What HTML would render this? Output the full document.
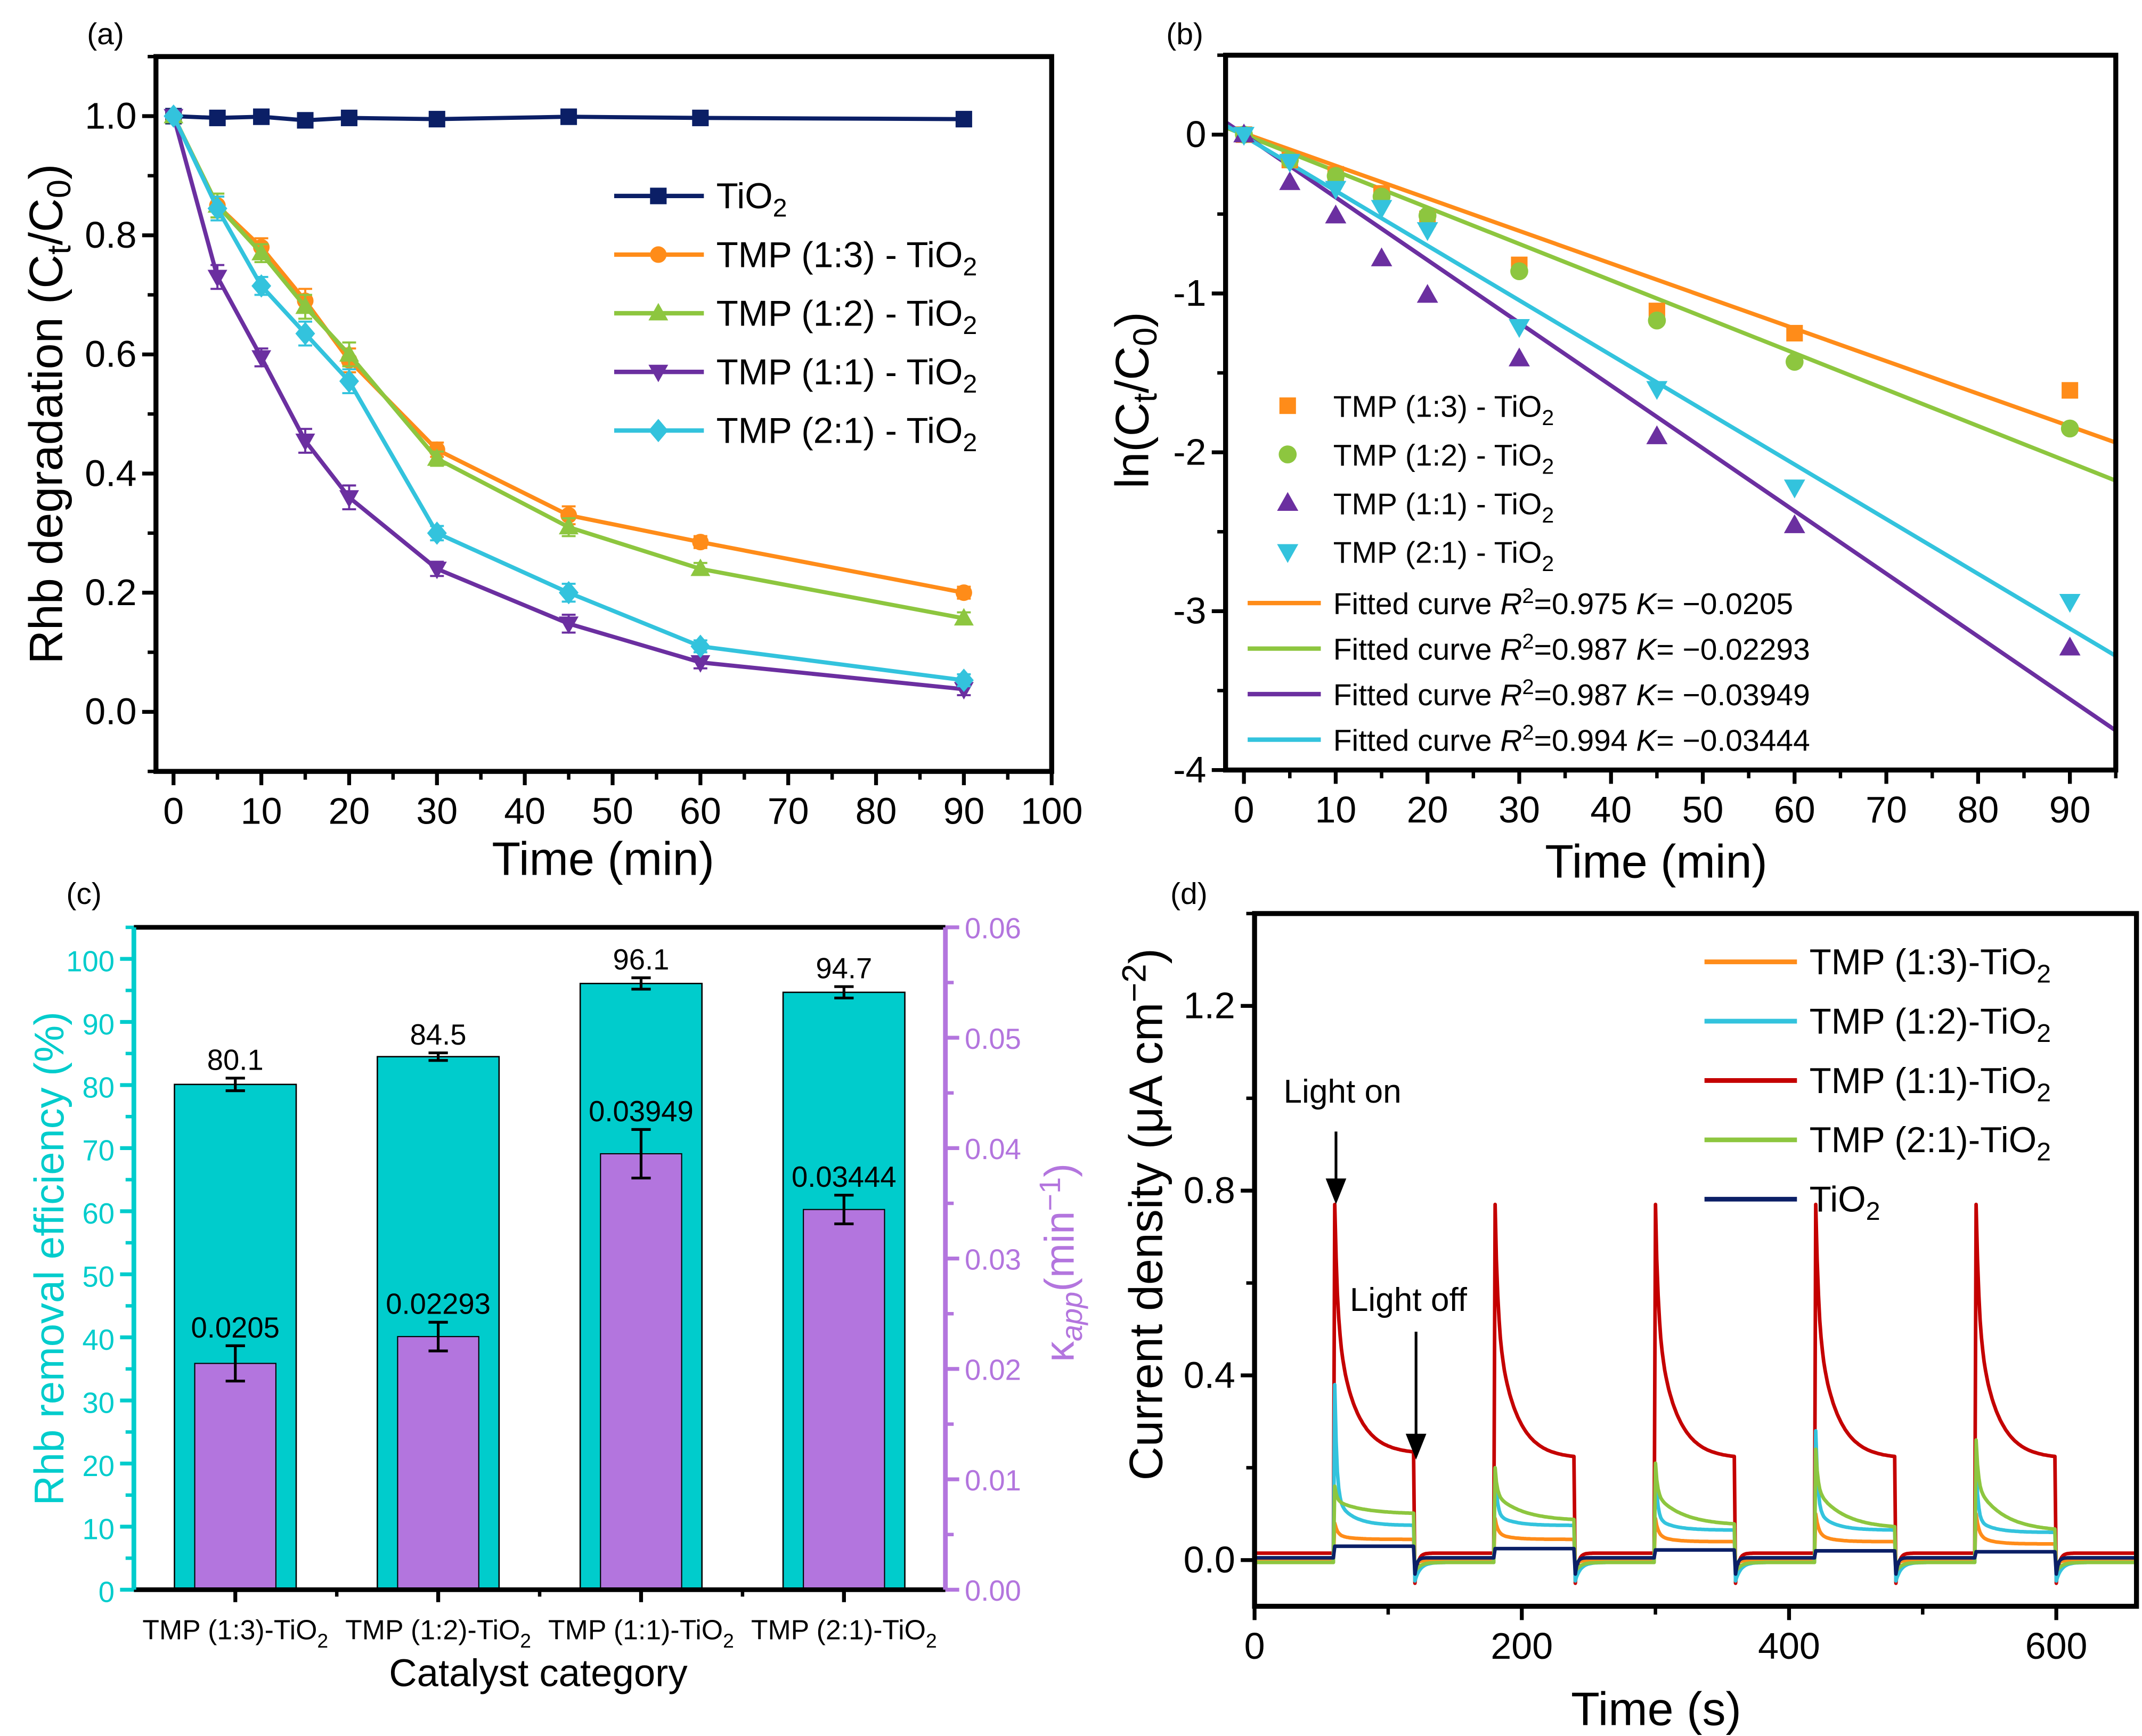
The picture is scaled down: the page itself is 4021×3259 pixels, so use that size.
<!DOCTYPE html>
<html><head><meta charset="utf-8"><style>
html,body{margin:0;padding:0;background:#fff}
svg{display:block;font-family:"Liberation Sans",sans-serif}
</style></head><body>
<svg id="fig" width="4021" height="3259" viewBox="0 0 1552 1258" preserveAspectRatio="none" xmlns="http://www.w3.org/2000/svg"></svg>
<script>
// ---------- Panel (a) data ----------
const aTimes=[0,5,10,15,20,30,45,60,90];
const aTiO2=[1.0,0.997,0.999,0.993,0.997,0.995,0.999,0.997,0.995];
const a13=[1,0.85,0.78,0.69,0.59,0.44,0.33,0.285,0.20];
const a12=[1,0.85,0.77,0.68,0.60,0.425,0.31,0.24,0.157];
const a11=[1,0.73,0.595,0.455,0.36,0.24,0.148,0.083,0.038];
const a21=[1,0.845,0.715,0.635,0.555,0.30,0.20,0.11,0.053];
const aErr=[0,0.02,0.015,0.02,0.02,0.012,0.015,0.01,0.01];
// ---------- Panel (b) data ----------
const bTimes=[0,5,10,15,20,30,45,60,90];
const b13=[0,-0.16,-0.25,-0.37,-0.53,-0.82,-1.11,-1.25,-1.61];
const b12=[0,-0.16,-0.26,-0.39,-0.51,-0.86,-1.17,-1.43,-1.85];
const b11=[0,-0.3,-0.51,-0.78,-1.01,-1.41,-1.9,-2.46,-3.23];
const b21=[0,-0.17,-0.34,-0.46,-0.6,-1.21,-1.6,-2.22,-2.94];
const bSlopes=[-0.0205,-0.02293,-0.03949,-0.03444];
const bIntercepts=[0.009,0.0,0.0,-0.01];
const bR2=["0.975","0.987","0.987","0.994"];
// ---------- Panel (c) data ----------
const cCats=["TMP (1:3)-TiO","TMP (1:2)-TiO","TMP (1:1)-TiO","TMP (2:1)-TiO"];
const cEff=[80.1,84.5,96.1,94.7];
const cEffErr=[1.0,0.6,0.9,0.9];
const cK=[0.0205,0.02293,0.03949,0.03444];
const cKErr=[0.0016,0.0013,0.0022,0.0013];
const cKLabels=["0.0205","0.02293","0.03949","0.03444"];
// ---------- Panel (d) data ----------
const dOn=[60,180,300,420,540];
const dOff=[120,240,360,480,600];
const dRedPeak=[0.77,0.77,0.77,0.77,0.77];
const dRedEnd=[0.23,0.22,0.22,0.22,0.22];
const dCyanPeak=[0.38,0.2,0.2,0.28,0.2];
const dCyanEnd=[0.075,0.075,0.065,0.065,0.06];
const dGreenPeak=[0.16,0.2,0.21,0.24,0.26];
const dGreenEnd=[0.1,0.085,0.075,0.068,0.062];
const dOrangePeak=[0.08,0.09,0.09,0.1,0.1];
const dOrangeEnd=[0.045,0.045,0.04,0.04,0.035];
const dTiLight=[0.03,0.025,0.022,0.02,0.018];

const NS="http://www.w3.org/2000/svg";
const svg=document.getElementById('fig');
function mk(tag,attrs,parent){const e=document.createElementNS(NS,tag);for(const k in attrs)e.setAttribute(k,attrs[k]);(parent||svg).appendChild(e);return e;}
function lin(d0,d1,r0,r1){return v=>r0+(v-d0)/(d1-d0)*(r1-r0);}
function txt(x,y,s,size,opts,parent){const t=mk('text',Object.assign({x:x,y:y,'font-size':size,fill:'#000'},opts||{}),parent);t.innerHTML=s;return t;}
const SUB='<tspan dy="6" font-size="0.72em">2</tspan>';
const C={orange:'#FF8C19',green:'#8DC63F',purple:'#6B2FA0',cyan:'#33C3DD',navy:'#0B1F66',red:'#C40000',teal:'#00CCCC',lav:'#B375DE'};

function frame(l,t,r,b,name){const e=mk('rect',{x:l,y:t,width:r-l,height:b-t,fill:'none',stroke:'#000','stroke-width':3.6});}
function xticks(g,sx,b,majors,minors,labels,size){
  minors.forEach(v=>{const e=mk('line',{x1:sx(v),x2:sx(v),y1:b,y2:b+6,stroke:'#000','stroke-width':2.5},g);});
  majors.forEach((v,i)=>{const e=mk('line',{x1:sx(v),x2:sx(v),y1:b,y2:b+10,stroke:'#000','stroke-width':2.8},g);
    const t=txt(sx(v),b+38,labels[i],size,{'text-anchor':'middle'},g);});
}
function yticks(g,sy,l,majors,minors,labels,size,color){
  color=color||'#000';
  minors.forEach(v=>{const e=mk('line',{x1:l-6,x2:l,y1:sy(v),y2:sy(v),stroke:color,'stroke-width':2.5},g);});
  majors.forEach((v,i)=>{const e=mk('line',{x1:l-10,x2:l,y1:sy(v),y2:sy(v),stroke:color,'stroke-width':2.8},g);
    const t=txt(l-14,sy(v)+9,labels[i],size,{'text-anchor':'end',fill:color},g);});
}
function marker(g,shape,x,y,s,color){
  let e;
  if(shape==='square')e=mk('rect',{x:x-s,y:y-s,width:2*s,height:2*s,fill:color},g);
  else if(shape==='circle')e=mk('circle',{cx:x,cy:y,r:s,fill:color},g);
  else if(shape==='up')e=mk('polygon',{points:`${x},${y-s*1.15} ${x-s*1.1},${y+s*0.8} ${x+s*1.1},${y+s*0.8}`,fill:color},g);
  else if(shape==='down')e=mk('polygon',{points:`${x},${y+s*1.15} ${x-s*1.1},${y-s*0.8} ${x+s*1.1},${y-s*0.8}`,fill:color},g);
  else e=mk('polygon',{points:`${x},${y-s*1.3} ${x+s*1.1},${y} ${x},${y+s*1.3} ${x-s*1.1},${y}`,fill:color},g);
  return e;
}
function range(a,b,s){const r=[];for(let v=a;v<=b+1e-9;v+=s)r.push(+v.toFixed(6));return r;}

// ================= Panel (a) =================
{
const g=mk('g',{});
const L=113,R=762,T=41,B=559;
const sx=lin(-2,100,L,R), sy=lin(-0.1,1.1,B,T);
const pl=txt(63,32,'(a)',22,{},g);
const series=[[aTiO2,C.navy,'square',6,'TiO'+SUB],[a13,C.orange,'circle',6,'TMP (1:3) - TiO'+SUB],[a12,C.green,'up',6.5,'TMP (1:2) - TiO'+SUB],[a11,C.purple,'down',6.5,'TMP (1:1) - TiO'+SUB],[a21,C.cyan,'diamond',6.5,'TMP (2:1) - TiO'+SUB]];
series.forEach((s,si)=>{
  const sg=mk('g',{},g);
  if(si>0)aTimes.forEach((t,i)=>{if(!aErr[i])return;const x=sx(t);const e=mk('path',{d:`M${x-5},${sy(s[0][i]+aErr[i])}H${x+5}M${x},${sy(s[0][i]+aErr[i])}V${sy(s[0][i]-aErr[i])}M${x-5},${sy(s[0][i]-aErr[i])}H${x+5}`,stroke:s[1],'stroke-width':1.5,fill:'none'},sg);});
  const pth=mk('polyline',{points:aTimes.map((t,i)=>sx(t)+','+sy(s[0][i])).join(' '),fill:'none',stroke:s[1],'stroke-width':3,'stroke-linejoin':'round'},sg);
  aTimes.forEach((t,i)=>{const m=marker(sg,s[2],sx(t),sy(s[0][i]),s[3],s[1]);});
  const ly=142+si*42.5;
  const ll=mk('line',{x1:445,x2:510,y1:ly,y2:ly,stroke:s[1],'stroke-width':3.2},g);
  const lm=marker(g,s[2],477,ly,s[3],s[1]);
  const lt=txt(519,ly+9,s[4],26,{},g);
});
frame(L,T,R,B,'panel-a-frame');
xticks(g,sx,B,range(0,100,10),range(0,100,5),range(0,100,10).map(String),27);
yticks(g,sy,L,range(0,1,0.2),range(-0.1,1.1,0.1),range(0,1,0.2).map(v=>v.toFixed(1)),27);
const xt=txt(437,634,'Time (min)',34,{'text-anchor':'middle'},g);
const yt=txt(0,0,'Rhb degradation (C<tspan dy="6" font-size="0.72em">t</tspan><tspan dy="-6">/C</tspan><tspan dy="6" font-size="0.72em">0</tspan><tspan dy="-6">)</tspan>',34,{'text-anchor':'middle',transform:'translate(45,300) rotate(-90)'},g);
}

// ================= Panel (b) =================
{
const g=mk('g',{});
const L=888,R=1533,T=40,B=558;
const sx=lin(-2,95,L,R), sy=lin(-4,0.5,B,T);
const pl=txt(845,32,'(b)',22,{},g);
const cols=[C.orange,C.green,C.purple,C.cyan];
const fits=mk('g',{},g);
bSlopes.forEach((k,i)=>{const e=mk('line',{x1:sx(-2),y1:sy(bIntercepts[i]+k*-2),x2:sx(95),y2:sy(bIntercepts[i]+k*95),stroke:cols[i],'stroke-width':3},fits);});
const pts=[[b13,C.orange,'square',6,'TMP (1:3) - TiO'+SUB],[b12,C.green,'circle',6.5,'TMP (1:2) - TiO'+SUB],[b11,C.purple,'up',7,'TMP (1:1) - TiO'+SUB],[b21,C.cyan,'down',7,'TMP (2:1) - TiO'+SUB]];
pts.forEach((s,si)=>{
  const sg=mk('g',{},g);
  bTimes.forEach((t,i)=>{const m=marker(sg,s[2],sx(t),sy(s[0][i]),s[3],s[1]);});
  const ly=294+si*35.3;
  const lm=marker(g,s[2],933,ly,s[3],s[1]);
  const lt=txt(966,ly+8,s[4],22,{},g);
});
bSlopes.forEach((k,i)=>{const ly=437+i*33;
  const ll=mk('line',{x1:904,x2:957,y1:ly,y2:ly,stroke:cols[i],'stroke-width':3.2},g);
  const lt=txt(966,ly+8,'Fitted curve <tspan font-style="italic">R</tspan><tspan dy="-8" font-size="0.7em">2</tspan><tspan dy="8">='+bR2[i]+' </tspan><tspan font-style="italic">K</tspan>= \u2212'+Math.abs(k),22,{},g);});
frame(L,T,R,B,'panel-b-frame');
xticks(g,sx,B,range(0,90,10),range(0,95,5),range(0,90,10).map(String),27);
yticks(g,sy,L,range(-4,0,1),range(-4,0.5,0.5),range(-4,0,1).map(String),27);
const xt=txt(1200,636,'Time (min)',34,{'text-anchor':'middle'},g);
const yt=txt(0,0,'ln(C<tspan dy="6" font-size="0.72em">t</tspan><tspan dy="-6">/C</tspan><tspan dy="6" font-size="0.72em">0</tspan><tspan dy="-6">)</tspan>',34,{'text-anchor':'middle',transform:'translate(832,290) rotate(-90)'},g);
}

// ================= Panel (c) =================
{
const g=mk('g',{});
const L=97,R=685,T=672,B=1152;
const sx=lin(0,4,L,R), sy=lin(0,105,B,T), sk=lin(0,0.06,B,T);
const slot=(R-L)/4;
const pl=txt(48,655,'(c)',22,{},g);
cEff.forEach((v,i)=>{const cx=sx(i+0.5);
  const b1=mk('rect',{x:cx-slot*0.3,y:sy(v),width:slot*0.6,height:B-sy(v),fill:C.teal,stroke:'#000','stroke-width':1},g);
  const b2=mk('rect',{x:cx-slot*0.2,y:sk(cK[i]),width:slot*0.4,height:B-sk(cK[i]),fill:C.lav,stroke:'#000','stroke-width':0.8},g);
  const e1=mk('path',{d:`M${cx-7},${sy(v+cEffErr[i])}H${cx+7}M${cx},${sy(v+cEffErr[i])}V${sy(v-cEffErr[i])}M${cx-7},${sy(v-cEffErr[i])}H${cx+7}`,stroke:'#000','stroke-width':2,fill:'none'},g);
  const e2=mk('path',{d:`M${cx-7},${sk(cK[i]+cKErr[i])}H${cx+7}M${cx},${sk(cK[i]+cKErr[i])}V${sk(cK[i]-cKErr[i])}M${cx-7},${sk(cK[i]-cKErr[i])}H${cx+7}`,stroke:'#000','stroke-width':2,fill:'none'},g);
  const t1=txt(cx,sy(v+cEffErr[i])-6,v.toFixed(1),21,{'text-anchor':'middle'},g);
  const t2=txt(cx,sk(cK[i]+cKErr[i])-6,cKLabels[i],21,{'text-anchor':'middle'},g);
  const tk=mk('line',{x1:cx,x2:cx,y1:B,y2:B+9,stroke:'#000','stroke-width':2.8},g);
  const cl=txt(cx,B+36,cCats[i]+SUB,20,{'text-anchor':'middle'},g);
});
[1,2,3].forEach(v=>{const e=mk('line',{x1:sx(v),x2:sx(v),y1:B,y2:B+5,stroke:'#000','stroke-width':2.5},g);});
const top=mk('line',{x1:L,x2:R,y1:T,y2:T,stroke:'#000','stroke-width':3.4},g);
const bot=mk('line',{x1:L,x2:R,y1:B,y2:B,stroke:'#000','stroke-width':3.4},g);
const la=mk('line',{x1:L,x2:L,y1:T,y2:B,stroke:C.teal,'stroke-width':3.4},g);
const ra=mk('line',{x1:R,x2:R,y1:T,y2:B,stroke:C.lav,'stroke-width':3.4},g);
yticks(g,sy,L,range(0,100,10),range(0,105,5),range(0,100,10).map(String),21,C.teal);
range(0,0.06,0.005).forEach(v=>{const e=mk('line',{x1:R,x2:R+6,y1:sk(v),y2:sk(v),stroke:C.lav,'stroke-width':2.5},g);});
range(0,0.06,0.01).forEach(v=>{const e=mk('line',{x1:R,x2:R+10,y1:sk(v),y2:sk(v),stroke:C.lav,'stroke-width':2.8},g);
  const t=txt(R+14,sk(v)+8,v.toFixed(2),21,{fill:C.lav},g);});
const xt=txt(390,1222,'Catalyst category',28,{'text-anchor':'middle'},g);
const yl=txt(0,0,'Rhb removal efficiency (%)',30,{'text-anchor':'middle',fill:C.teal,transform:'translate(46,912) rotate(-90)'},g);
const yr=txt(0,0,'\u03BA<tspan dy="6" font-size="0.72em" font-style="italic">app</tspan><tspan dy="-6">(min</tspan><tspan dy="-10" font-size="0.72em">\u22121</tspan><tspan dy="10">)</tspan>',30,{'text-anchor':'middle',fill:C.lav,transform:'translate(778,915) rotate(-90)'},g);
}

// ================= Panel (d) =================
{
const g=mk('g',{});
const L=909,R=1548,T=662,B=1164;
const sx=lin(0,660,L,R), sy=lin(-0.1,1.4,B,T);
const pl=txt(848,655,'(d)',22,{},g);
function trace(peak,end,dark,under,fastW,tauF,tauS,darkTau){
  const pts=[];
  for(let t=0;t<=660;t+=1){
    let v=dark;
    for(let k=0;k<dOn.length;k++){
      if(t>=dOn[k]&&t<dOff[k]){const dt=t-dOn[k];v=end[k]+(peak[k]-end[k])*(fastW*Math.exp(-dt/tauF)+(1-fastW)*Math.exp(-dt/tauS));}
      else if(t>=dOff[k]&&t<dOff[k]+120){const dt=t-dOff[k];v=dark+(under-dark)*Math.exp(-dt/darkTau);}
    }
    pts.push(sx(t).toFixed(1)+','+sy(v).toFixed(1));
  }
  return pts.join(' ');
}
const traces=[
 [trace(dOrangePeak,dOrangeEnd,0.0,-0.01,0.7,2,10,3),C.orange,'trace-tmp-1-3'],
 [trace(dCyanPeak,dCyanEnd,-0.005,-0.045,0.8,1.5,12,4),C.cyan,'trace-tmp-1-2'],
 [trace(dRedPeak,dRedEnd,0.015,-0.05,0.45,2,14,2),C.red,'trace-tmp-1-1'],
 [trace(dGreenPeak,dGreenEnd,-0.005,-0.025,0.5,1.5,20,4),C.green,'trace-tmp-2-1'],
 [trace(dTiLight,dTiLight,0.005,-0.03,0.5,2,10,1.5),C.navy,'trace-tio2']
];
const order=[2,0,1,3,4];
order.forEach(i=>{const e=mk('polyline',{points:traces[i][0],fill:'none',stroke:traces[i][1],'stroke-width':2.6,'stroke-linejoin':'round'},g);});
frame(L,T,R,B,'panel-d-frame');
xticks(g,sx,B,[0,200,400,600],range(0,600,100),['0','200','400','600'],27);
yticks(g,sy,L,[0,0.4,0.8,1.2],range(0,1.4,0.2),['0.0','0.4','0.8','1.2'],27);
const names=['TMP (1:3)-TiO','TMP (1:2)-TiO','TMP (1:1)-TiO','TMP (2:1)-TiO','TiO'];
names.forEach((n,i)=>{const ly=697+i*43;
  const ll=mk('line',{x1:1235,x2:1302,y1:ly,y2:ly,stroke:traces[i][1],'stroke-width':3.4},g);
  const lt=txt(1311,ly+9,n+SUB,26,{},g);});
const t1=txt(930,799,'Light on',24,{},g);
const a1=mk('path',{d:'M968,820V862M962,855L968,870L974,855Z',stroke:'#000','stroke-width':2,fill:'#000'},g);
const t2=txt(978,950,'Light off',24,{},g);
const a2=mk('path',{d:'M1026,965V1047M1020,1040L1026,1055L1032,1040Z',stroke:'#000','stroke-width':2,fill:'#000'},g);
const xt=txt(1200,1250,'Time (s)',34,{'text-anchor':'middle'},g);
const yt=txt(0,0,'Current density (\u03BCA cm<tspan dy="-12" font-size="0.72em">\u22122</tspan><tspan dy="12">)</tspan>',34,{'text-anchor':'middle',transform:'translate(842,880) rotate(-90)'},g);
}
</script>
</body></html>
